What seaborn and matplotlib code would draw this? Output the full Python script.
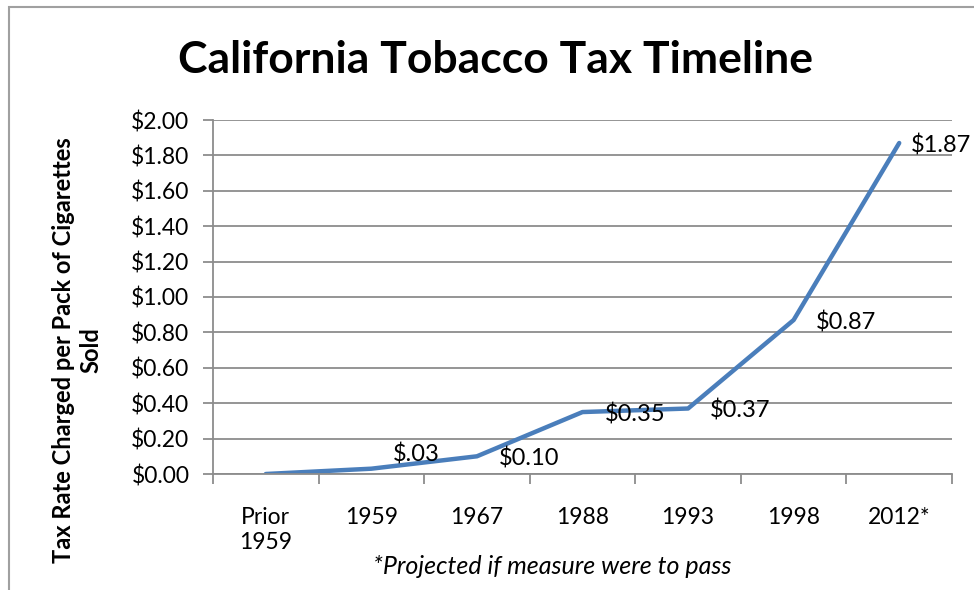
import matplotlib
matplotlib.use("Agg")
import matplotlib.pyplot as plt
import seaborn as sns
import pandas as pd
from matplotlib.patches import Rectangle
from matplotlib.ticker import FixedLocator

categories = ["Prior\n1959", "1959", "1967", "1988", "1993", "1998", "2012*"]
values = [0.00, 0.03, 0.10, 0.35, 0.37, 0.87, 1.87]
point_labels = ["", "$.03", "$0.10", "$0.35", "$0.37", "$0.87", "$1.87"]
label_dy = [0, 14, -2, -2, -2, -2, -2]
label_dx = [22, 22, 22, 22, 22, 22, 12]
yticks = [0.0, 0.2, 0.4, 0.6, 0.8, 1.0, 1.2, 1.4, 1.6, 1.8, 2.0]

sns.set_theme(style="white")
plt.rcParams["font.family"] = ["Lato", "DejaVu Sans"]

df = pd.DataFrame({"cat": categories, "val": values})

fig = plt.figure(figsize=(9.74, 5.90), dpi=100)
ax = fig.add_axes([213/974, 1-474/590, (952-213)/974, (474-120)/590])

sns.lineplot(data=df, x="cat", y="val", ax=ax, color="#4A7EBB", linewidth=3.2,
             sort=False, solid_capstyle="round")

ax.set_xlim(-0.5, len(categories) - 0.5)
ax.set_ylim(0, 2.0)
ax.set_yticks(yticks)
ax.set_yticklabels([f"${v:.2f}" for v in yticks])
ax.set_xticks(range(len(categories)))
ax.set_xticklabels(categories)
ax.xaxis.set_minor_locator(FixedLocator([i - 0.5 for i in range(len(categories) + 1)]))

grid_c = "#8C8C8C"
ax.yaxis.grid(True, color=grid_c, linewidth=1.3)
ax.xaxis.grid(False)
for s in ["top", "right"]:
    ax.spines[s].set_visible(False)
for s in ["left", "bottom"]:
    ax.spines[s].set_color(grid_c)
    ax.spines[s].set_linewidth(1.3)

ax.tick_params(axis="y", which="major", left=True, length=7, width=1.3, color=grid_c,
               labelsize=16.5, pad=10, labelcolor="black")
ax.tick_params(axis="x", which="major", bottom=False, length=0, labelsize=16.5, pad=24,
               labelcolor="black")
ax.tick_params(axis="x", which="minor", bottom=True, length=7, width=1.3, color=grid_c)

for i, (v, lab) in enumerate(zip(values, point_labels)):
    if lab:
        ax.annotate(lab, xy=(i, v), xytext=(label_dx[i], label_dy[i]),
                    textcoords="offset pixels", ha="left", va="center",
                    fontsize=17, color="black")

ax.set_xlabel("*Projected if measure were to pass", fontsize=18, style="italic",
              color="black")
ax.xaxis.set_label_coords((552-213)/739, (474-566)/354)
ax.xaxis.label.set_va("center")
ax.set_ylabel("Tax Rate Charged per Pack of Cigarettes\nSold", fontsize=17,
              fontweight="bold", color="black", linespacing=1.25)
ax.yaxis.set_label_coords((77-213)/739, (474-350)/354)
ax.yaxis.label.set_va("center")
ax.yaxis.label.set_fontweight("bold")

fig.text(495/974, 1-60/590, "California Tobacco Tax Timeline", ha="center", va="center",
         fontsize=32, fontweight="bold", color="black")

fig.add_artist(Rectangle((9/974, -0.2), 1.5, 1.2 - 7/590, transform=fig.transFigure,
                         fill=False, edgecolor="#A0A0A0", linewidth=1.5))

fig.savefig("out.png", dpi=100)
